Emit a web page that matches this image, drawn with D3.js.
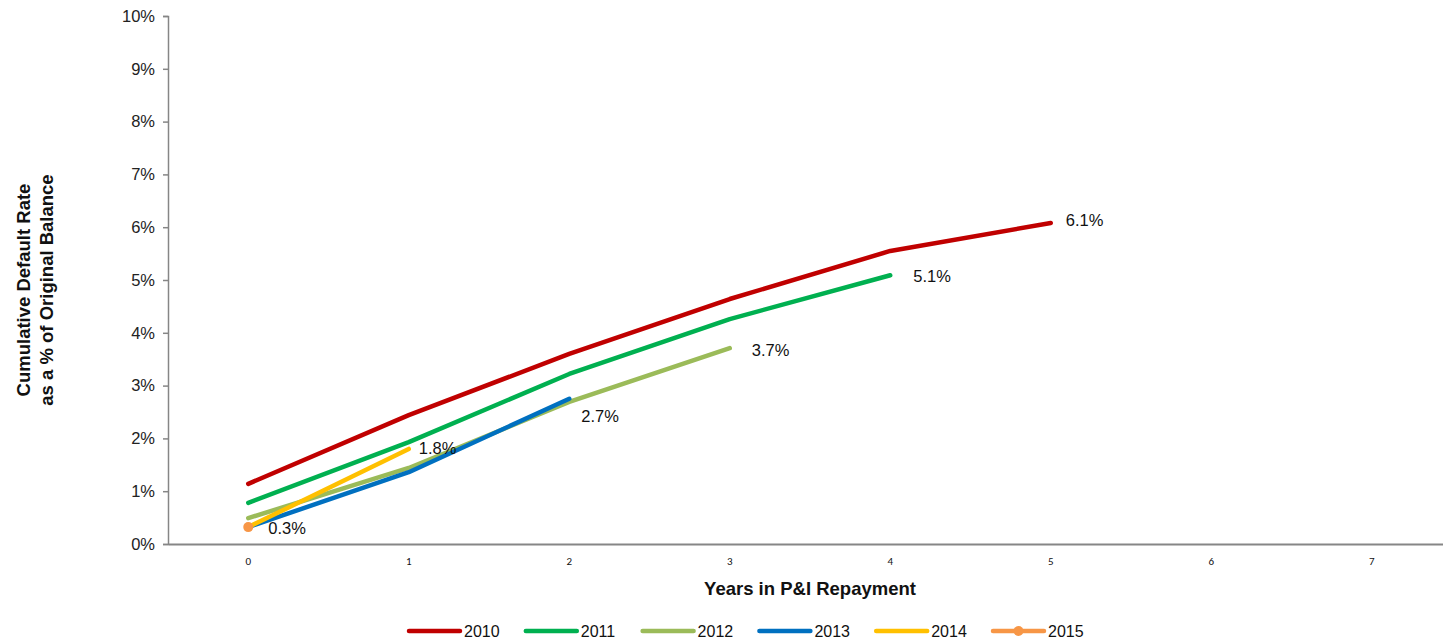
<!DOCTYPE html>
<html><head><meta charset="utf-8">
<script src="https://cdn.jsdelivr.net/npm/d3@7"></script>
<style>body{margin:0;background:#fff}svg{display:block;font-family:"Liberation Sans",Arial,sans-serif}</style>
</head><body><svg id="c" width="1443" height="640"></svg>
<script>
const categories = ["0","1","2","3","4","5","6","7"];
const yTicks = [0,1,2,3,4,5,6,7,8,9,10];
const seriesNames = ["2010","2011","2012","2013","2014","2015"];
const s2010 = [1.14, 2.44, 3.6, 4.64, 5.55, 6.08];
const s2011 = [0.78, 1.93, 3.22, 4.26, 5.09];
const s2012 = [0.49, 1.44, 2.69, 3.71];
const s2013 = [0.32, 1.36, 2.75];
const s2014 = [0.32, 1.80];
const s2015 = [0.32];
const colors = ["#C00000","#00B050","#9BBB59","#0070C0","#FFC000","#F79646"];
const labels = [
  {s:0, i:5, text:"6.1%", dx:15, dy:-3},
  {s:1, i:4, text:"5.1%", dx:23, dy:1},
  {s:2, i:3, text:"3.7%", dx:22, dy:2},
  {s:3, i:2, text:"2.7%", dx:12, dy:17},
  {s:4, i:1, text:"1.8%", dx:10, dy:-1},
  {s:5, i:0, text:"0.3%", dx:20, dy:1}
];
const allSeries = [s2010,s2011,s2012,s2013,s2014,s2015];

(function(){
const svg = d3.select("#c");
const mLeft = 168, mTop = 16, mBottom = 544, mRight = 1452;
const x = d3.scaleBand().domain(categories).range([mLeft, mRight]);
const y = d3.scaleLinear().domain([0,10]).range([mBottom, mTop]);
const axisColor = "#868686";

// Y axis
const ya = svg.append("g").attr("transform",`translate(${mLeft},0)`)
  .call(d3.axisLeft(y).tickValues(yTicks).tickSize(5).tickPadding(8).tickFormat(d=>d+"%"));
ya.select(".domain").attr("stroke",axisColor).attr("stroke-width",1.5);
ya.selectAll(".tick line").attr("stroke",axisColor).attr("stroke-width",1.5);
ya.selectAll(".tick text").attr("font-size",16.5).attr("fill","#222").attr("font-family","Liberation Sans, Arial, sans-serif");

// X axis
const xa = svg.append("g").attr("transform",`translate(0,${mBottom})`)
  .call(d3.axisBottom(x).tickSize(0).tickPadding(13).tickSizeOuter(0));
xa.select(".domain").attr("stroke",axisColor).attr("stroke-width",2);
xa.selectAll(".tick text").attr("font-size",11).attr("fill","#111").attr("font-family","Carlito, Liberation Sans, Arial, sans-serif");

// Lines
const cx = i => x(categories[i]) + x.bandwidth()/2;
const line = d3.line().x((d,i)=>cx(i)).y(d=>y(d));
allSeries.forEach((s,k)=>{
  if (s.length > 1) {
    svg.append("path").datum(s).attr("d",line).attr("fill","none")
      .attr("stroke",colors[k]).attr("stroke-width",4.5).attr("stroke-linecap","round").attr("stroke-linejoin","round");
  }
});
// 2015 marker
svg.append("circle").attr("cx",cx(0)).attr("cy",y(s2015[0])).attr("r",5).attr("fill",colors[5]);

// Data labels
labels.forEach(l=>{
  const v = allSeries[l.s][l.i];
  svg.append("text").attr("x",cx(l.i)+l.dx).attr("y",y(v)+l.dy).attr("dy","0.35em")
    .attr("font-size",16.5).attr("fill","#111").text(l.text);
});

// Axis titles
svg.append("text").attr("x",810).attr("y",595).attr("text-anchor","middle")
  .attr("font-size",18.5).attr("font-weight","bold").attr("fill","#111").text("Years in P&I Repayment");
const yt = svg.append("text").attr("transform","translate(30,290) rotate(-90)").attr("text-anchor","middle")
  .attr("font-size",18.5).attr("font-weight","bold").attr("fill","#111");
yt.append("tspan").attr("x",0).attr("dy",0).text("Cumulative Default Rate");
yt.append("tspan").attr("x",0).attr("dy",23).text("as a % of Original Balance");

// Legend
const lg = svg.append("g");
seriesNames.forEach((n,k)=>{
  const x0 = 407 + k*116.8, yy = 631;
  lg.append("line").attr("x1",x0+2).attr("x2",x0+53).attr("y1",yy).attr("y2",yy)
    .attr("stroke",colors[k]).attr("stroke-width",4.5).attr("stroke-linecap","round");
  if (k===5) lg.append("circle").attr("cx",x0+27.5).attr("cy",yy).attr("r",5).attr("fill",colors[k]);
  lg.append("text").attr("x",x0+57).attr("y",yy).attr("dy","0.35em").attr("font-size",16)
    .attr("fill","#111").text(n);
});
})();
</script></body></html>
